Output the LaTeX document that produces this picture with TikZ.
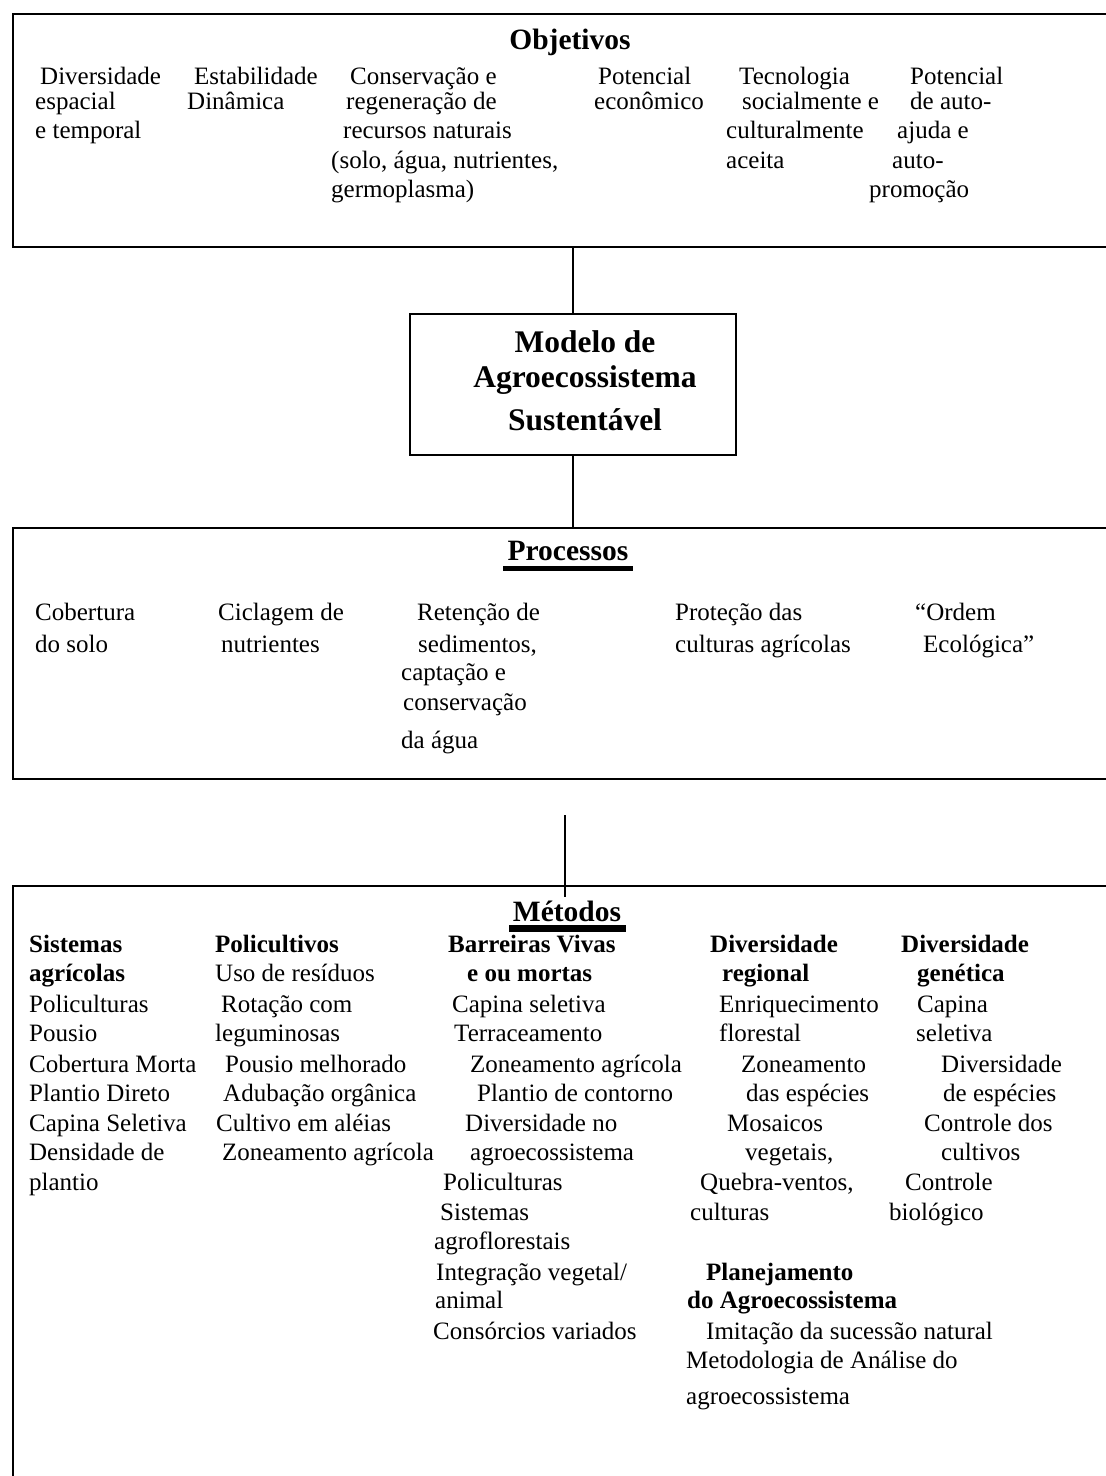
\documentclass[tikz,border=0pt]{standalone}
\usepackage{fontspec}
\setmainfont{Liberation Serif}
\tikzset{
  frame/.style={draw, line width=2.2pt, inner sep=0pt, anchor=north west},
  conn/.style={draw, line width=1.4pt},
  tx/.style={anchor=base west, inner sep=0pt, font=\fontsize{25}{30}\selectfont},
  tb/.style={anchor=base west, inner sep=0pt, font=\fontsize{25}{30}\selectfont\bfseries},
  ttl/.style={anchor=base, inner sep=0pt, font=\fontsize{29.5}{34}\selectfont\bfseries},
  big/.style={anchor=base, inner sep=0pt, font=\fontsize{31.5}{36}\selectfont\bfseries},
  ubar/.style={fill=black}
}
\begin{document}
\begin{tikzpicture}[x=1pt,y=-1pt]
\clip (0,0) rectangle (1106,1476);
\fill[white] (0,0) rectangle (1106,1476);

% frames
\node[frame, minimum width=1120pt, minimum height=233pt] (obj) at (12,13) {};
\node[frame, line width=1.8pt, minimum width=326pt, minimum height=141pt] (mod) at (409,313) {};
\node[frame, minimum width=1120pt, minimum height=251pt] (proc) at (12,527) {};
\node[frame, minimum width=1120pt, minimum height=700pt] (met) at (12,885) {};

% connectors
\draw[conn] (obj.south -| mod.north) -- (mod.north);
\draw[conn] (mod.south) -- (mod.south |- proc.north);
\coordinate (ca) at (565,815);
\coordinate (cb) at (565,897);
\draw[conn] (ca) -- (cb);

% Objetivos
\node[ttl] (tobj) at (570,49) {Objetivos};
\node[tx] (o11) at (40,84) {Diversidade};
\node[tx] (o12) at (35,109) {espacial};
\node[tx] (o13) at (35,138) {e temporal};
\node[tx] (o21) at (194,84) {Estabilidade};
\node[tx] (o22) at (187,109) {Dinâmica};
\node[tx] (o31) at (350,84) {Conservação e};
\node[tx] (o32) at (346,109) {regeneração de};
\node[tx] (o33) at (343,138) {recursos naturais};
\node[tx] (o34) at (331,168) {(solo, água, nutrientes,};
\node[tx] (o35) at (331,197) {germoplasma)};
\node[tx] (o41) at (598,84) {Potencial};
\node[tx] (o42) at (594,109) {econômico};
\node[tx] (o51) at (739,84) {Tecnologia};
\node[tx] (o52) at (742,109) {socialmente e};
\node[tx] (o53) at (726,138) {culturalmente};
\node[tx] (o54) at (726,168) {aceita};
\node[tx] (o61) at (910,84) {Potencial};
\node[tx] (o62) at (910,109) {de auto-};
\node[tx] (o63) at (897,138) {ajuda e};
\node[tx] (o64) at (892,168) {auto-};
\node[tx] (o65) at (869,197) {promoção};

% Modelo
\node[big] (m1) at (585,352) {Modelo de};
\node[big] (m2) at (585,387) {Agroecossistema};
\node[big] (m3) at (585,430) {Sustentável};

% Processos
\node[ttl] (tproc) at (568,560) {Processos};
\fill[ubar] (503,566) rectangle (633,571);
\node[tx] (p11) at (35,620) {Cobertura};
\node[tx] (p12) at (35,652) {do solo};
\node[tx] (p21) at (218,620) {Ciclagem de};
\node[tx] (p22) at (221,652) {nutrientes};
\node[tx] (p31) at (417,620) {Retenção de};
\node[tx] (p32) at (418,652) {sedimentos,};
\node[tx] (p33) at (401,680) {captação e};
\node[tx] (p34) at (403,710) {conservação};
\node[tx] (p35) at (401,748) {da água};
\node[tx] (p41) at (675,620) {Proteção das};
\node[tx] (p42) at (675,652) {culturas agrícolas};
\node[tx] (p51) at (915,620) {“Ordem};
\node[tx] (p52) at (923,652) {Ecológica”};

% Metodos
\node[ttl] (tmet) at (567,921) {Métodos};
\fill[ubar] (509,925) rectangle (626,932);
% column 1
\node[tb] (a01) at (29,952) {Sistemas};
\node[tb] (a02) at (29,981) {agrícolas};
\node[tx] (a03) at (29,1012) {Policulturas};
\node[tx] (a04) at (29,1041) {Pousio};
\node[tx] (a05) at (29,1072) {Cobertura Morta};
\node[tx] (a06) at (29,1101) {Plantio Direto};
\node[tx] (a07) at (29,1131) {Capina Seletiva};
\node[tx] (a08) at (29,1160) {Densidade de};
\node[tx] (a09) at (29,1190) {plantio};
% column 2
\node[tb] (b01) at (215,952) {Policultivos};
\node[tx] (b02) at (215,981) {Uso de resíduos};
\node[tx] (b03) at (221,1012) {Rotação com};
\node[tx] (b04) at (215,1041) {leguminosas};
\node[tx] (b05) at (225,1072) {Pousio melhorado};
\node[tx] (b06) at (223,1101) {Adubação orgânica};
\node[tx] (b07) at (216,1131) {Cultivo em aléias};
\node[tx] (b08) at (222,1160) {Zoneamento agrícola};
% column 3
\node[tb] (c01) at (448,952) {Barreiras Vivas};
\node[tb] (c02) at (467,981) {e ou mortas};
\node[tx] (c03) at (452,1012) {Capina seletiva};
\node[tx] (c04) at (454,1041) {Terraceamento};
\node[tx] (c05) at (470,1072) {Zoneamento agrícola};
\node[tx] (c06) at (477,1101) {Plantio de contorno};
\node[tx] (c07) at (465,1131) {Diversidade no};
\node[tx] (c08) at (470,1160) {agroecossistema};
\node[tx] (c09) at (443,1190) {Policulturas};
\node[tx] (c10) at (440,1220) {Sistemas};
\node[tx] (c11) at (434,1249) {agroflorestais};
\node[tx] (c12) at (436,1280) {Integração vegetal/};
\node[tx] (c13) at (435,1308) {animal};
\node[tx] (c14) at (433,1339) {Consórcios variados};
% column 4
\node[tb] (d01) at (710,952) {Diversidade};
\node[tb] (d02) at (722,981) {regional};
\node[tx] (d03) at (719,1012) {Enriquecimento};
\node[tx] (d04) at (719,1041) {florestal};
\node[tx] (d05) at (741,1072) {Zoneamento};
\node[tx] (d06) at (746,1101) {das espécies};
\node[tx] (d07) at (727,1131) {Mosaicos};
\node[tx] (d08) at (745,1160) {vegetais,};
\node[tx] (d09) at (700,1190) {Quebra-ventos,};
\node[tx] (d10) at (690,1220) {culturas};
\node[tb] (d12) at (706,1280) {Planejamento};
\node[tb] (d13) at (687,1308) {do Agroecossistema};
\node[tx] (d14) at (706,1339) {Imitação da sucessão natural};
\node[tx] (d15) at (686,1368) {Metodologia de Análise do};
\node[tx] (d16) at (686,1404) {agroecossistema};
% column 5
\node[tb] (e01) at (901,952) {Diversidade};
\node[tb] (e02) at (917,981) {genética};
\node[tx] (e03) at (917,1012) {Capina};
\node[tx] (e04) at (916,1041) {seletiva};
\node[tx] (e05) at (941,1072) {Diversidade};
\node[tx] (e06) at (943,1101) {de espécies};
\node[tx] (e07) at (924,1131) {Controle dos};
\node[tx] (e08) at (941,1160) {cultivos};
\node[tx] (e09) at (905,1190) {Controle};
\node[tx] (e10) at (889,1220) {biológico};
\end{tikzpicture}
\end{document}
